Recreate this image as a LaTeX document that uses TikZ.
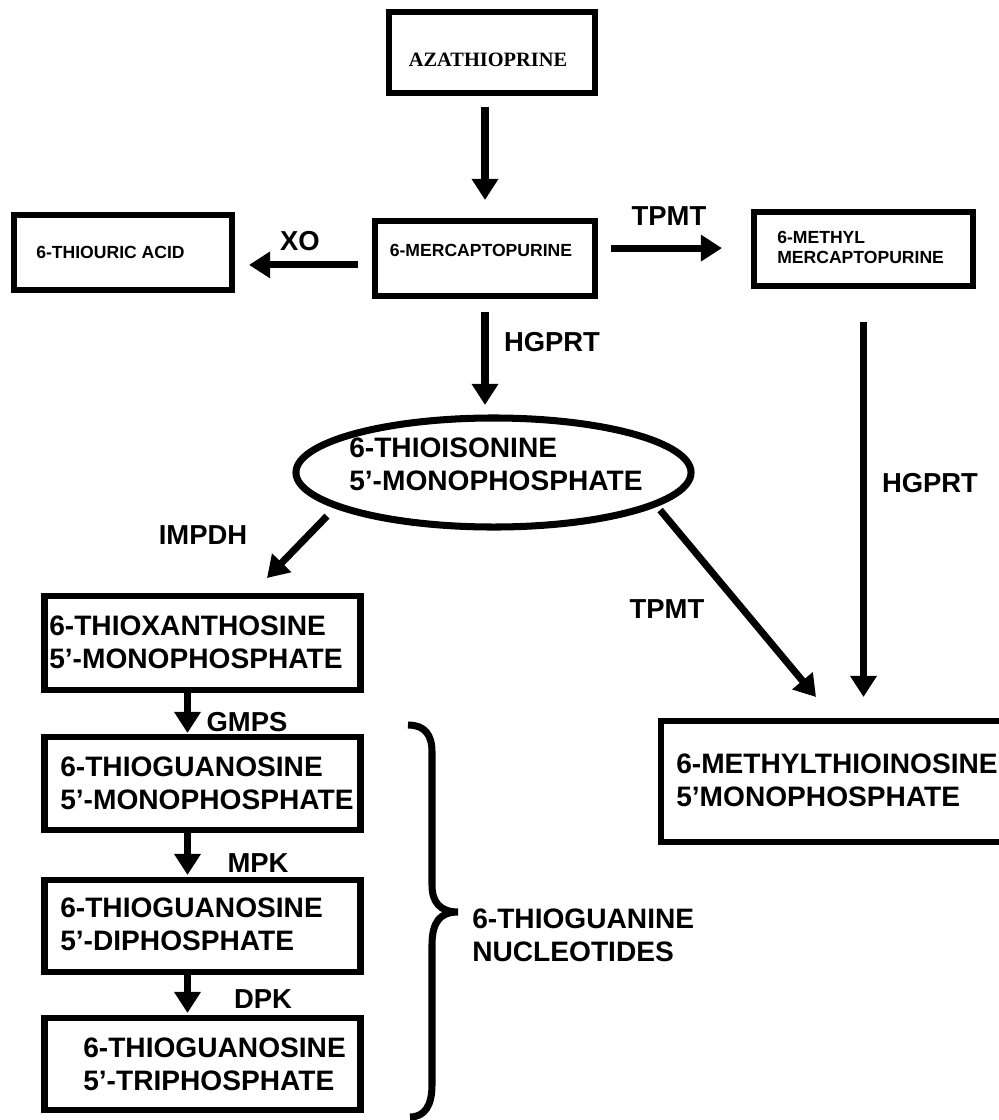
\documentclass[tikz,border=0pt]{standalone}
\usepackage{fontspec}
\setmainfont{Liberation Sans}
\newfontfamily\titlefont{Liberation Serif}
\usetikzlibrary{arrows.meta,shapes.geometric}

\begin{document}
\begin{tikzpicture}[
		x={(0.025cm,0cm)},
		y={(0cm,-0.025cm)},
		font=\bfseries,
		box/.style={draw, line width=4.5pt, inner sep=0pt, outer sep=0pt},
		lowbox/.style={box, minimum width=7.9cm},
		oval/.style={ellipse, draw, line width=5pt, inner sep=0pt, outer sep=0pt,
			minimum width=9.875cm, minimum height=2.725cm},
		bigtxt/.style={inner sep=0pt, align=left, anchor=west,
			font=\bfseries\fontsize{20}{23.5}\selectfont},
		smalltxt/.style={inner sep=0pt, align=left,
			font=\bfseries\fontsize{12.5}{14.2}\selectfont},
		enz/.style={inner sep=0pt, font=\bfseries\fontsize{19.5}{23}\selectfont},
		arr/.style={line width=5pt, -{Triangle[length=0.53cm,width=0.64cm]}}
		]
		
		% page
		\path[use as bounding box, fill=white] (0,0) rectangle (999,1120);
		
		% top row
		\node[box, minimum width=5.15cm, minimum height=2.025cm] (aza) at (492,52.5) {};
		\node[inner sep=0pt, font=\titlefont\bfseries\fontsize{14.5}{17}\selectfont] (azatext) at (488,60) {AZATHIOPRINE};
		
		\node[box, minimum width=5.5cm, minimum height=1.875cm] (mp) at (485,258.5) {};
		\node[smalltxt] (mptext) at (481,250) {6-MERCAPTOPURINE};
		
		\node[box, minimum width=5.45cm, minimum height=1.875cm] (tua) at (123,252.5) {};
		\node[smalltxt, anchor=west] (tuatext) at (36,252) {6-THIOURIC ACID};
		
		\node[box, minimum width=5.475cm, minimum height=1.85cm] (mmp) at (863.5,249) {};
		\node[smalltxt, anchor=west] (mmptext) at (777,247) {6-METHYL\\MERCAPTOPURINE};
		
		% thioinosine monophosphate
		\node[oval] (tis) at (493.5,472.5) {};
		\node[bigtxt] (tistext) at (349,464) {6-THIOISONINE\\5’-MONOPHOSPHATE};
		
		% left column
		\node[lowbox, minimum height=2.35cm] (tx) at (202.5,643) {};
		\node[bigtxt] (txtext) at (49,642.5) {6-THIOXANTHOSINE\\5’-MONOPHOSPHATE};
		
		\node[lowbox, minimum height=2.325cm] (tgmp) at (202.5,783.5) {};
		\node[bigtxt] (tgmptext) at (60,783) {6-THIOGUANOSINE\\5’-MONOPHOSPHATE};
		
		\node[lowbox, minimum height=2.3cm] (tgdp) at (202.5,926) {};
		\node[bigtxt] (tgdptext) at (60,924) {6-THIOGUANOSINE\\5’-DIPHOSPHATE};
		
		\node[lowbox, minimum height=2.3cm] (tgtp) at (202.5,1064) {};
		\node[bigtxt] (tgtptext) at (83,1064) {6-THIOGUANOSINE\\5’-TRIPHOSPHATE};
		
		% methylthioinosine monophosphate
		\node[box, minimum width=8.575cm, minimum height=3.025cm] (mtimp) at (832.5,781.5) {};
		\node[bigtxt] (mtimptext) at (676,780.5) {6-METHYLTHIOINOSINE\\5’MONOPHOSPHATE};
		
		% arrows round 6-MP
		\draw[arr, shorten <=0.34cm, shorten >=0.525cm] (aza.south -| mp.north) -- (mp.north);
		
		\path ([yshift=-0.16cm]mp.west) coordinate (xostart);
		\draw[arr, shorten <=0.425cm, shorten >=0.425cm] (xostart) -- (xostart -| tua.east);
		\node[enz] (xo) at (300,241) {XO};
		
		\path ([yshift=0.26cm]mp.east) coordinate (tpmtstart);
		\draw[arr, shorten <=0.4cm, shorten >=0.8cm] (tpmtstart) -- (tpmtstart -| mmp.west);
		\node[enz] (tpmta) at (669,216) {TPMT};
		
		\draw[arr, shorten <=0.4cm, shorten >=0.325cm] (mp.south) -- (mp.south |- tis.north);
		\node[enz] (hgprta) at (552,342) {HGPRT};
		
		\draw[arr, shorten <=0.9cm, shorten >=0.6cm] (mmp.south) -- (mmp.south |- mtimp.north);
		\node[enz] (hgprtb) at (930,483) {HGPRT};
		
		% arrows out of the ellipse
		\coordinate (impdhtip) at (267,578);
		\draw[arr, shorten <=0.36cm] (tis.192.5) -- (impdhtip);
		\node[enz] (impdh) at (203,535) {IMPDH};
		
		\coordinate (tpmttip) at (816,697);
		\draw[arr, shorten <=0.2cm] (tis.-11) -- (tpmttip);
		\node[enz] (tpmtb) at (667,609) {TPMT};
		
		% nucleotide chain
		\draw[arr, shorten >=0.1cm] ([xshift=-0.375cm]tx.south) -- ([xshift=-0.375cm]tgmp.north);
		\node[enz] (gmps) at (247,722) {GMPS};
		\draw[arr, shorten >=0.125cm] ([xshift=-0.375cm]tgmp.south) -- ([xshift=-0.375cm]tgdp.north);
		\node[enz] (mpk) at (258,863) {MPK};
		\draw[arr, shorten >=0.125cm] ([xshift=-0.375cm]tgdp.south) -- ([xshift=-0.375cm]tgtp.north);
		\node[enz] (dpk) at (263,999) {DPK};
		
		% brace
		\draw[line width=5pt] (408,725) .. controls (425,725) and (432,735) .. (432,752) -- (432,885)
		.. controls (432,902) and (440,912) .. (458,912)
		.. controls (440,912) and (432,922) .. (432,945) -- (432,1085)
		.. controls (432,1105) and (425,1117) .. (410,1117);
		\node[bigtxt] (tgn) at (472,935) {6-THIOGUANINE\\NUCLEOTIDES};
		
	\end{tikzpicture}
\end{document}
